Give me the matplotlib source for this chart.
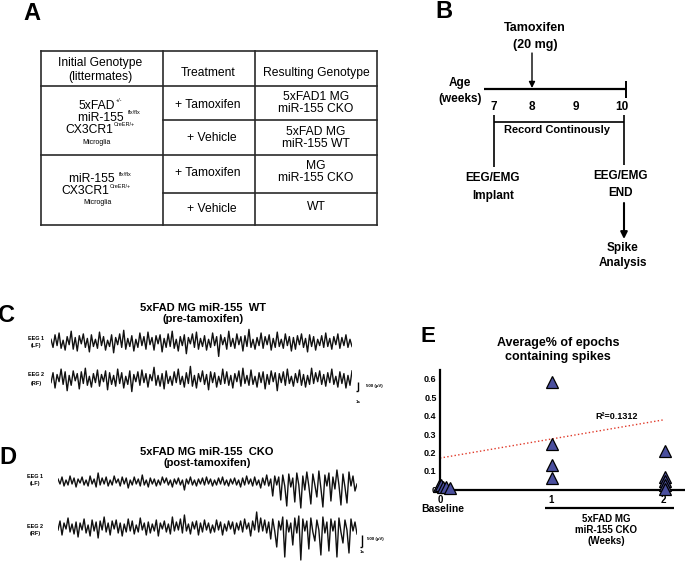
import matplotlib.pyplot as plt
import numpy as np

# ---- data ----
table_header = ["Initial Genotype\n(littermates)", "Treatment", "Resulting Genotype"]
treatments = ["+ Tamoxifen", "+ Vehicle", "+ Tamoxifen", "+ Vehicle"]
resulting = ["5xFAD1 MG\nmiR-155 CKO", "5xFAD MG\nmiR-155 WT", "MG\nmiR-155 CKO", "WT"]

week_labels = ["7", "8", "9", "10"]

# EEG traces (arbitrary units)
c_eeg1 = [3, -6, 8, -4, 10, -7, 2, -9, 6, -3, 12, -8, 5, -10, 7,
          -2, 9, -6, 4, -11, 8, -5, 3, -7, 11, -4, 6, -9, 2, -5,
          8, -12, 5, -3, 9, -6, 13, -8, 4, -5, 7, -10, 3, -6, 10,
          -4, 6, -8, 11, -3, 5, -9, 7, -2, 8, -11, 4, -6, 9, -5,
          12, -7, 3, -10, 6, -4, 8, -13, 5, -2, 9, -6, 11, -8, 4,
          -5, 7, -9, 3, -6, 10, -4, 6, -16, 8, -3, 5, -8, 12, -5,
          4, -7, 9, -3, 6, -10, 7, -5, 14, -6, 3, -8, 5, -4, 10,
          -7, 6, -3, 8, -9, 4, -6, 11, -5, 3, -7, 9, -4, 6, -10,
          5, -8, 7, -3, 9, -6, 4, -11, 8, -5, 6, -9, 3, -4, 7,
          -6, 10, -5, 4, -8, 6, -3, 9, -7, 5, -4, 8, -6, 3, -5]
c_eeg2 = [-4, 7, -10, 5, -3, 11, -6, 8, -13, 4, -7, 9, -2, 6, -11,
          8, -5, 12, -7, 3, -9, 6, -4, 10, -8, 5, -3, 9, -12, 7,
          -6, 4, -8, 11, -5, 7, -10, 3, -6, 9, -14, 5, -3, 8, -7,
          10, -4, 6, -9, 5, -2, 13, -7, 4, -8, 6, -11, 9, -5, 3,
          -7, 8, -4, 11, -6, 3, -9, 7, -5, 14, -8, 4, -10, 6, -3,
          9, -6, 5, -12, 8, -4, 7, -9, 3, -6, 11, -5, 8, -7, 4,
          -10, 6, -3, 9, -8, 12, -5, 4, -7, 10, -6, 3, -9, 7, -4,
          8, -11, 5, -6, 9, -3, 7, -13, 6, -4, 8, -7, 11, -5, 3,
          -8, 6, -4, 10, -7, 5, -9, 4, -6, 12, -5, 7, -3, 9, -6,
          5, -8, 7, -4, 11, -6, 3, -9, 8, -5, 6, -10, 4, -7, 9]
d_eeg1 = [3, -2, 5, -4, 2, -3, 6, -2, 4, -5, 3, -1, 5, -3, 2,
          -4, 6, -2, 3, -5, 9, -3, 4, -2, 5, -4, 2, -3, 6, -1,
          3, -4, 5, -2, 4, -6, 2, -3, 5, -2, 3, -4, 7, -3, 2,
          -5, 4, -2, 3, -4, 2, -3, 5, -1, 4, -3, 2, -5, 3, -2,
          4, -3, 2, -8, 3, -2, 5, -3, 2, -4, 3, -2, 4, -3, 5,
          -2, 3, -4, 2, -3, 4, -2, 5, -3, 2, -4, 3, -2, 4, -3,
          2, -5, 4, -3, 6, -2, 3, -4, 5, -3, 2, -6, 4, -3, 7,
          -4, 3, -14, 6, -3, 5, -18, 7, -4, -24, 8, -5, 4, -20, 9,
          -3, -26, 6, -8, 10, -4, -22, 8, -3, -15, 11, -6, -25, 7, -4,
          9, -19, 5, -7, 12, -3, -23, 8, -5, -21, 10, -4, 6, -9, -2]
d_eeg2 = [-3, 6, -8, 4, -2, 9, -5, 3, -7, 5, -10, 4, -3, 8, -6,
          2, -9, 7, -4, 5, -11, 6, -3, 10, -5, 4, -8, 6, -2, 7,
          -6, 4, -9, 3, -5, 8, -4, 6, -7, 2, -5, 9, -3, 4, -8,
          5, -6, 3, -4, 7, -9, 4, -2, 6, -5, 3, -7, 10, -4, 5,
          -3, 8, -6, 12, -4, 3, -7, 5, -2, 6, -8, 4, -5, 7, -3,
          4, -6, 2, -5, 7, -3, 5, -8, 3, -4, 6, -2, 5, -7, 4,
          -3, 6, -5, 8, -2, 4, -9, 6, -3, 15, -5, 9, -4, 7, -6,
          5, -12, 8, -4, -20, 6, -3, 10, -30, 7, -5, 4, -18, 9, -6,
          11, -33, 8, -4, 6, -22, 9, -5, -14, 7, -3, -28, 10, -6, 5,
          -24, 8, -4, 6, -30, 9, -5, -16, 7, -3, -26, 8, -4, 5, -7]

# panel E
baseline_x = [-0.01, 0.01, 0.03, 0.05, 0.09]
baseline_y = [0.02, 0.025, 0.015, 0.015, 0.01]
week1_x = [1.0, 1.0, 1.0, 1.0]
week1_y = [0.58, 0.245, 0.13, 0.062]
week2_x = [2.02, 2.02, 2.02, 2.02, 2.02]
week2_y = [0.21, 0.065, 0.045, 0.025, 0.005]
trend_intercept = 0.17
trend_slope = 0.103
r2_text = "R²=0.1312"
e_yticks = [0, 0.1, 0.2, 0.3, 0.4, 0.5, 0.6]
e_yticklabels = ["0", "0.1", "0.2", "0.3", "0.4", "0.5", "0.6"]

plt.rcParams["font.family"] = ["Liberation Sans", "DejaVu Sans"]

W, H = 685, 563
fig = plt.figure(figsize=(W / 100, H / 100), dpi=100)
ax0 = fig.add_axes([0, 0, 1, 1])
ax0.set_xlim(0, W)
ax0.set_ylim(H, 0)
ax0.axis("off")
renderer = fig.canvas.get_renderer()


def px_axes(x, y, w, h):
    return fig.add_axes([x / W, 1 - (y + h) / H, w / W, h / H])


def text_sup(x, y, base, sup, size=8.7, sup_size=4):
    t = ax0.text(x, y, base, fontsize=size, ha="left", va="center")
    bb = t.get_window_extent(renderer=renderer)
    xr = ax0.transData.inverted().transform((bb.x1, bb.y0))[0]
    ax0.text(xr + 0.5, y - 5, sup, fontsize=sup_size, ha="left", va="center")


def bold(x, y, s, size=8, **kw):
    ax0.text(x, y, s, fontsize=size, fontweight="bold", ha="center", va="center", **kw)


def line(xs, ys, lw=1.2, **kw):
    ax0.plot(xs, ys, color="black", lw=lw, solid_capstyle="butt", **kw)


# ---- panel labels ----
for lab, x, y, s in [("A", 32, 13, 17), ("B", 444, 11, 17), ("C", 7, 315, 17),
                     ("D", 8, 457, 17), ("E", 428, 336, 16)]:
    bold(x, y, lab, size=s)

# ---- panel A: table ----
tl, tr, tt, tb = 40.7, 377, 50.7, 225
c1, c2 = 163, 255
tcol = "#2a2a2a"
for xs, ys in [([tl, tr], [tt, tt]), ([tl, tr], [tb, tb]), ([tl, tl], [tt, tb]),
               ([tr, tr], [tt, tb]), ([c1, c1], [tt, tb]), ([c2, c2], [tt, tb]),
               ([tl, tr], [86, 86]), ([tl, tr], [155, 155]),
               ([c1, tr], [120, 120]), ([c1, tr], [193, 193])]:
    ax0.plot(xs, ys, color=tcol, lw=1.2, solid_capstyle="projecting")

ax0.text(100, 70, table_header[0], fontsize=8.7, ha="center", va="center", linespacing=1.15)
ax0.text(208, 73, table_header[1], fontsize=8.7, ha="center", va="center")
ax0.text(316, 73, table_header[2], fontsize=8.7, ha="center", va="center")

text_sup(79, 106, "5xFAD", "+/-")
text_sup(78, 118, "miR-155 ", "flx/flx")
text_sup(65, 130, "CX3CR1", "CreER/+")
ax0.text(97, 143, "Microglia", fontsize=5, ha="center", va="center")
text_sup(69, 179, "miR-155 ", "flx/flx")
text_sup(61, 191, "CX3CR1", "CreER/+")
ax0.text(98, 203, "Microglia", fontsize=5, ha="center", va="center")

for ty, rty, tx, s in zip([105, 138, 173, 209], [103, 138, 172, 207],
                          [208, 212, 208, 212], range(4)):
    ax0.text(tx, ty, treatments[s], fontsize=8.7, ha="center", va="center")
    ax0.text(316, rty, resulting[s], fontsize=8.7, ha="center", va="center", linespacing=1.1)

# ---- panel B: timeline ----
bold(535, 28, "Tamoxifen", size=9)
bold(535, 45, "(20 mg)", size=9)
ax0.annotate("", xy=(532, 88), xytext=(532, 53),
             arrowprops=dict(arrowstyle="-|>", color="black", lw=1, mutation_scale=9,
                             shrinkA=0, shrinkB=0))
bold(460, 83, "Age", size=8.5)
bold(460, 99, "(weeks)", size=8.5)
line([484, 626], [89, 89], lw=1.6)
line([626, 626], [81, 98], lw=1.4)
for lab, x in zip(week_labels, [494, 532, 576, 622]):
    bold(x, 107, lab, size=8.5)
line([494, 494], [115, 167])
line([624, 624], [115, 165])
line([494, 624], [122, 122])
bold(557, 130, "Record Continously")
bold(493, 178, "EEG/EMG", size=8.5)
bold(493, 196, "Implant", size=8.5)
bold(621, 176, "EEG/EMG", size=8.5)
bold(621, 193, "END", size=8.5)
ax0.annotate("", xy=(624, 239), xytext=(624, 203),
             arrowprops=dict(arrowstyle="-|>", color="black", lw=1.5, mutation_scale=10,
                             shrinkA=0, shrinkB=0))
bold(623, 248, "Spike", size=8.5)
bold(623, 263, "Analysis", size=8.5)


# ---- panels C, D: EEG ----
def add_trace(x0, x1, yc, half, values, gain=1.0):
    a = px_axes(x0, yc - half, x1 - x0, 2 * half)
    a.plot(np.arange(len(values)), values, color="#111111", lw=1.0)
    a.set_xlim(0, len(values) - 1)
    a.set_ylim(-half / gain, half / gain)
    a.axis("off")


add_trace(51, 352, 342, 20, c_eeg1, gain=0.9)
add_trace(51, 352, 379, 20, c_eeg2, gain=0.9)
add_trace(58, 357, 482, 35, d_eeg1)
add_trace(58, 357, 527, 36, d_eeg2)

bold(203, 308, "5xFAD MG miR-155  WT")
bold(203, 319, "(pre-tamoxifen)")
bold(207, 452, "5xFAD MG miR-155  CKO")
bold(207, 463, "(post-tamoxifen)")

bold(36, 338, "EEG 1", size=4)
bold(36, 346, "(LF)", size=4)
bold(36, 375, "EEG 2", size=4)
bold(36, 384, "(RF)", size=4)
bold(35, 477, "EEG 1", size=4)
bold(35, 484, "(LF)", size=4)
bold(35, 527, "EEG 2", size=4)
bold(35, 534, "(RF)", size=4)

# scale bars
line([358, 358], [382, 391], lw=1)
line([356.5, 358], [391, 391], lw=1)
ax0.text(366, 386, "500 (µV)", fontsize=3.2, fontweight="bold", ha="left", va="center")
bold(358, 402, "1s", size=3.2)
line([362, 362], [535, 547], lw=1)
line([360.5, 362], [547, 547], lw=1)
ax0.text(367, 539, "500 (µV)", fontsize=3.2, fontweight="bold", ha="left", va="center")
bold(362, 552, "1s", size=3.2)

# ---- panel E ----
bold(558, 343, "Average% of epochs", size=9)
bold(558, 357, "containing spikes", size=9)

ax = px_axes(440, 370, 245, 119.5)
ax.set_xlim(0, 245 / 111.5)
ax.set_ylim(0, 119.5 / 185)
ax.patch.set_alpha(0)
for sp in ["top", "right"]:
    ax.spines[sp].set_visible(False)
for sp in ["left", "bottom"]:
    ax.spines[sp].set_linewidth(1.6)
ax.tick_params(length=0, pad=2.5)
ax.set_yticks(e_yticks)
ax.set_yticklabels(e_yticklabels, fontsize=6.5, fontweight="bold")
ax.set_xticks([0, 1, 2])
ax.set_xticklabels(["0", "1", "2"], fontsize=7, fontweight="bold")
ax.tick_params(axis="x", pad=4)

tx = np.array([0, 2.0])
ax.plot(tx, trend_intercept + trend_slope * tx, color="#e03a2a", lw=1, ls=":", zorder=2)
tri = dict(marker="^", ms=8.5, mfc="#4a4f9e", mec="black", mew=0.9, ls="none",
           clip_on=False, zorder=3)
ax.plot(baseline_x, baseline_y, **tri)
ax.plot(week1_x, week1_y, **tri)
ax.plot(week2_x, week2_y, **tri)
ax.text(1.39, 0.397, r2_text, fontsize=6.5, fontweight="bold", ha="left", va="center")

bold(443, 509, "Baseline", size=7.5)
line([545, 674], [508, 508], lw=1.6)
bold(606, 519, "5xFAD MG", size=7)
bold(606, 530, "miR-155 CKO", size=7)
bold(606, 541, "(Weeks)", size=7)

fig.savefig("out.png", dpi=100)
